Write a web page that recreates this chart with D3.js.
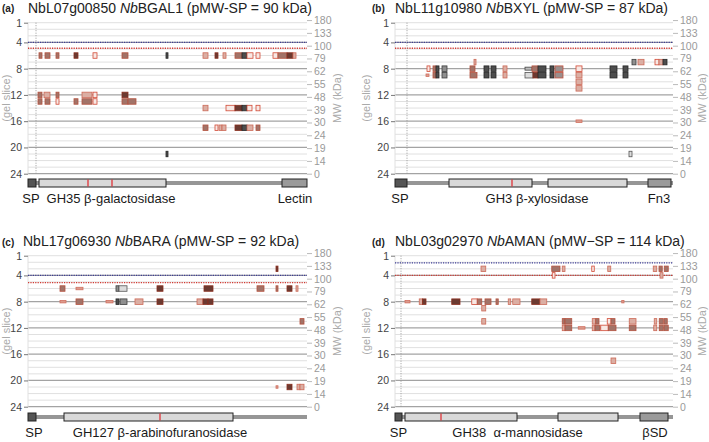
<!DOCTYPE html>
<html><head><meta charset="utf-8">
<script src="https://cdn.jsdelivr.net/npm/d3@7"></script>
<style>body{margin:0;background:#fff;} svg{display:block;font-family:"Liberation Sans",Arial,sans-serif;}</style>
</head><body><svg id="chart" width="709" height="442"></svg>
<script>
// ---------- data ----------
const sliceTicks = [1, 4, 8, 12, 16, 20, 24];
const majorSlices = [4, 8, 12, 16, 20, 24];
const mwTicks = ["180","133","100","79","62","55","48","39","30","24","19","14","0"];
const tags = ["(a)", "(b)", "(c)", "(d)"];
const geneIds = ["NbL07g00850", "NbL11g10980", "NbL17g06930", "NbL03g02970"];
const proteinNames = ["BGAL1", "BXYL", "BARA", "AMAN"];
const pmwLabels = ["(pMW-SP = 90 kDa)", "(pMW-SP = 87 kDa)", "(pMW-SP = 92 kDa)", "(pMW\u2212SP = 114 kDa)"];
const seqLengths = [837, 834, 837, 1112];
const cleavageSites = [24, 36, null, 24];
const blueLineSlices = [4, 4, 4, 2.1];
const redLineSlices = [4.9, 4.9, 5.1, 4];

// domains: [start, end, type]
const domainsA = [[0,24,"sp"],[33,414,"gh"],[762,837,"cd"]];
const domainsB = [[0,36,"sp"],[162,411,"gh"],[459,696,"gh"],[759,828,"cd"]];
const domainsC = [[0,24,"sp"],[108,615,"gh"]];
const domainsD = [[0,28,"sp"],[40,488,"gh"],[652,892,"gh"],[980,1092,"cd"]];
// catalytic residues
const sitesA = [180, 252];
const sitesB = [351];
const sitesC = [396];
const sitesD = [184];
// domain labels: [text, residue centre]
const labelsA = [["SP",9],["GH35 \u03b2-galactosidase",249],["Lectin",801]];
const labelsB = [["SP",15],["GH3 \u03b2-xylosidase",426],["Fn3",792]];
const labelsC = [["SP",18],["GH127 \u03b2-arabinofuranosidase",396]];
const labelsD = [["SP",14],["GH38  \u03b1-mannosidase",490],["\u03b2SD",1040]];

// peptides: [start residue, end residue, gel slice, tone]
const peptidesA = [
 [33,42,6,"b"],[51,66,6,"b"],[84,93,6,"b"],[138,150,6,"d"],[195,207,6,"o"],[282,300,6,"b"],[414,420,6,"k"],
 [525,540,6,"p"],[561,570,6,"d"],[585,594,6,"p"],[621,642,6,"b"],[642,657,6,"k"],[657,675,6,"o"],[684,696,6,"o"],
 [735,750,6,"o"],[750,777,6,"b"],[777,795,6,"d"],[795,804,6,"p"],
 [30,42,12,"b"],[48,66,12,"p"],[84,93,12,"b"],[162,192,12,"p"],[195,207,12,"o"],[282,300,12,"d"],
 [30,42,13,"b"],[51,66,13,"b"],[84,93,13,"o"],[138,150,13,"b"],[162,192,13,"b"],[195,207,13,"o"],[282,300,13,"b"],[300,324,13,"b"],
 [525,540,14,"p"],[594,621,14,"o"],[621,642,14,"d"],[642,657,14,"k"],[657,672,14,"o"],[684,696,14,"o"],
 [525,540,17,"b"],[561,570,17,"o"],[573,582,17,"p"],[582,594,17,"p"],[621,642,17,"d"],[642,657,17,"k"],[657,675,17,"p"],[684,696,17,"b"],
 [414,420,21,"k"]
];
const peptidesB = [
 [237,243,7,"p"],[711,723,7,"g"],[729,747,7,"p"],[780,792,7,"o"],[792,804,7,"p"],[804,816,7,"k"],
 [96,105,8,"o"],[114,123,8,"b"],[123,132,8,"k"],[141,156,8,"g"],[225,240,8,"b"],[267,282,8,"k"],[288,303,8,"k"],
 [324,336,8,"p"],[390,411,8,"u"],[411,429,8,"b"],[429,453,8,"k"],[465,477,8,"k"],[480,504,8,"x"],[543,561,8,"o"],
 [645,666,8,"k"],[684,699,8,"k"],
 [93,102,9,"t"],[114,123,9,"b"],[123,132,9,"k"],[141,156,9,"g"],[225,246,9,"b"],[267,282,9,"k"],[288,303,9,"k"],
 [324,336,9,"p"],[390,414,9,"l"],[414,429,9,"d"],[429,453,9,"k"],[465,477,9,"k"],[480,504,9,"x"],[543,561,9,"p"],
 [645,666,9,"k"],[684,699,9,"k"],
 [543,561,10,"p"],[543,561,11,"p"],[543,561,16,"t"],[702,711,21,"l"]
];
const peptidesC = [
 [744,750,3,"d"],
 [96,111,6,"b"],[144,165,6,"t"],[264,273,6,"g"],[273,297,6,"l"],[387,405,6,"d"],[528,555,6,"d"],[687,708,6,"b"],
 [744,750,6,"b"],[777,792,6,"d"],[804,810,6,"p"],
 [96,114,8,"t"],[144,165,8,"b"],[234,255,8,"t"],[264,273,8,"k"],[276,297,8,"g"],[321,345,8,"p"],[387,405,8,"d"],
 [507,525,8,"p"],[525,540,8,"d"],[540,555,8,"d"],
 [816,828,11,"b"],
 [744,750,21,"t"],[777,792,21,"d"],[807,816,21,"p"],[816,828,21,"p"]
];
const peptidesD = [
 [344,363,3,"p"],[627,660,3,"b"],[669,680,3,"p"],[787,797,3,"o"],[851,863,3,"p"],[1033,1047,3,"p"],[1056,1069,3,"b"],[1077,1093,3,"b"],
 [629,640,4,"o"],[1060,1072,4,"p"],
 [40,60,8,"t"],[97,110,8,"p"],[110,124,8,"d"],[227,260,8,"d"],[307,329,8,"o"],[329,347,8,"b"],[360,384,8,"b"],
 [404,413,8,"b"],[453,463,8,"p"],[471,500,8,"p"],[547,580,8,"d"],[580,607,8,"p"],[907,916,8,"t"],
 [347,363,9,"p"],
 [347,363,11,"p"],[669,680,11,"b"],[680,707,11,"b"],[789,803,11,"p"],[803,816,11,"b"],[849,864,11,"o"],[864,880,11,"b"],
 [937,964,11,"p"],[1037,1047,11,"p"],[1057,1073,11,"b"],[1076,1089,11,"b"],
 [669,680,12,"p"],[680,707,12,"b"],[733,760,12,"t"],[789,800,12,"p"],[800,820,12,"b"],[823,853,12,"o"],[853,884,12,"b"],
 [937,964,12,"b"],[1035,1047,12,"p"],[1057,1073,12,"b"],[1076,1093,12,"b"],
 [864,883,17,"p"]
];

// ---------- styling / layout ----------
const toneStyle = {
  k:{f:"#4d4d4d",s:"#262626",h:5.5}, g:{f:"#8f8f8f",s:"#3d3d3d",h:5.5}, l:{f:"#dcdcdc",s:"#555",h:5.5},
  u:{f:"#bdbdbd",s:"#444",h:3}, d:{f:"#6b3a31",s:"#8a2e1e",h:5.5}, b:{f:"#a27368",s:"#b5523f",h:5.5},
  p:{f:"#dbaea3",s:"#cc6a58",h:5.5}, o:{f:"#f7e8e4",s:"#d24a36",h:5.5}, x:{f:"#9a8e8c",s:"#c4523e",h:5.5},
  t:{f:"#dc9a8c",s:"#d07060",h:2.5}
};
const domainFill = {sp:"#555555", gh:"#d9d9d9", cd:"#9a9a9a"};

const layouts = [
  {left:28,  right:307, top:22.7,  title:12.5, tag:2,   titleX:28,  gelX:6,   mwX:337, bar:183, lab:203},
  {left:395, right:673, top:22.7,  title:12.5, tag:372, titleX:395, gelX:366, mwX:702, bar:183, lab:203},
  {left:28,  right:307, top:255.7, title:246,  tag:2,   titleX:23,  gelX:6,   mwX:337, bar:417, lab:437},
  {left:395, right:673, top:255.7, title:246,  tag:372, titleX:395, gelX:366, mwX:702, bar:417, lab:437}
];
const domainsAll = [domainsA, domainsB, domainsC, domainsD];
const sitesAll = [sitesA, sitesB, sitesC, sitesD];
const labelsAll = [labelsA, labelsB, labelsC, labelsD];
const peptidesAll = [peptidesA, peptidesB, peptidesC, peptidesD];

const svg = d3.select("#chart");

layouts.forEach((L, i) => {
  const g = svg.append("g");
  const x = d3.scaleLinear().domain([0, seqLengths[i]]).range([L.left, L.right]);
  const y = d3.scaleLinear().domain([1, 24]).range([L.top, L.top + 151]);
  const mw = d3.scalePoint().domain(mwTicks).range([y(0.6), y(24)]);

  // grid lines (one per gel slice)
  g.append("g").selectAll("line").data(d3.range(1, 25)).join("line")
    .attr("x1", L.left).attr("x2", L.right)
    .attr("y1", d => y(d)).attr("y2", d => y(d))
    .attr("stroke", d => majorSlices.includes(d) ? "#a3a3a3" : "#e0e0e0")
    .attr("stroke-width", d => majorSlices.includes(d) ? 1.3 : 1);
  g.append("line").attr("x1", L.left).attr("x2", L.left).attr("y1", y(1)).attr("y2", y(24))
    .attr("stroke", "#e0e0e0");

  // left axis
  const la = g.append("g").attr("transform", `translate(${L.left},0)`)
    .call(d3.axisLeft(y).tickValues(sliceTicks).tickSize(4).tickPadding(2));
  la.select(".domain").remove();
  la.selectAll("line").attr("stroke", "#777");
  la.selectAll("text").attr("fill", "#444").style("font-size", "10.5px").style("font-family", "Liberation Sans, Arial, sans-serif");

  // right axis (MW)
  const ra = g.append("g").attr("transform", `translate(${L.right},0)`)
    .call(d3.axisRight(mw).tickSize(5).tickPadding(2));
  ra.select(".domain").remove();
  ra.selectAll("line").attr("stroke", "#bbb");
  ra.selectAll("text").attr("fill", "#9a9a9a").style("font-size", "10.5px").style("font-family", "Liberation Sans, Arial, sans-serif");

  // axis titles
  g.append("text").attr("transform", `translate(${L.gelX},${y(12.5)}) rotate(-90)`)
    .attr("text-anchor", "middle").attr("dy", "0.35em").attr("fill", "#aaa").style("font-size", "11px").text("(gel slice)");
  g.append("text").attr("transform", `translate(${L.mwX},${y(12.5)}) rotate(-90)`)
    .attr("text-anchor", "middle").attr("dy", "0.35em").attr("fill", "#aaa").style("font-size", "11px").text("MW (kDa)");

  // reference dotted lines
  g.append("line").attr("x1", L.left).attr("x2", L.right)
    .attr("y1", y(blueLineSlices[i])).attr("y2", y(blueLineSlices[i]))
    .attr("stroke", "#3c3c96").attr("stroke-width", 1.4).attr("stroke-dasharray", "1.2,1.2");
  g.append("line").attr("x1", L.left).attr("x2", L.right)
    .attr("y1", y(redLineSlices[i])).attr("y2", y(redLineSlices[i]))
    .attr("stroke", "#d23a32").attr("stroke-width", 1.4).attr("stroke-dasharray", "1.2,1.2");

  // cleavage site
  if (cleavageSites[i] !== null) {
    g.append("line").attr("x1", x(cleavageSites[i])).attr("x2", x(cleavageSites[i]))
      .attr("y1", y(1)).attr("y2", y(24))
      .attr("stroke", "#999").attr("stroke-width", 1).attr("stroke-dasharray", "1,1.5");
  }

  // peptides
  g.append("g").selectAll("rect").data(peptidesAll[i]).join("rect")
    .attr("x", d => x(d[0]))
    .attr("width", d => Math.max(2, x(d[1]) - x(d[0])))
    .attr("y", d => y(d[2]) - toneStyle[d[3]].h / 2)
    .attr("height", d => toneStyle[d[3]].h)
    .attr("fill", d => toneStyle[d[3]].f)
    .attr("stroke", d => toneStyle[d[3]].s)
    .attr("stroke-width", 0.8);

  // protein backbone
  g.append("line").attr("x1", x(0)).attr("x2", x(seqLengths[i]))
    .attr("y1", L.bar).attr("y2", L.bar).attr("stroke", "#969696").attr("stroke-width", 4);
  g.append("g").selectAll("rect").data(domainsAll[i]).join("rect")
    .attr("x", d => x(d[0])).attr("width", d => x(d[1]) - x(d[0]))
    .attr("y", L.bar - 4).attr("height", 8)
    .attr("fill", d => domainFill[d[2]]).attr("stroke", "#222").attr("stroke-width", 1);
  g.append("g").selectAll("line").data(sitesAll[i]).join("line")
    .attr("x1", d => x(d)).attr("x2", d => x(d))
    .attr("y1", L.bar - 3.5).attr("y2", L.bar + 3.5)
    .attr("stroke", "#e0262b").attr("stroke-width", 1.2);

  // domain labels
  g.append("g").selectAll("text").data(labelsAll[i]).join("text")
    .attr("x", d => x(d[1])).attr("y", L.lab).attr("text-anchor", "middle")
    .attr("fill", "#1a1a1a").style("font-size", "13px").style("white-space", "pre")
    .text(d => d[0]);

  // title
  g.append("text").attr("x", L.tag).attr("y", L.title - 0.5)
    .attr("fill", "#222").style("font-size", "10px").style("font-weight", "bold").text(tags[i]);
  const t = g.append("text").attr("x", L.titleX).attr("y", L.title)
    .attr("fill", "#222").style("font-size", "14px").style("white-space", "pre");
  t.append("tspan").text(geneIds[i] + " ");
  t.append("tspan").style("font-style", "italic").text("Nb");
  t.append("tspan").text(proteinNames[i] + " " + pmwLabels[i]);
});
</script>
</body></html>
